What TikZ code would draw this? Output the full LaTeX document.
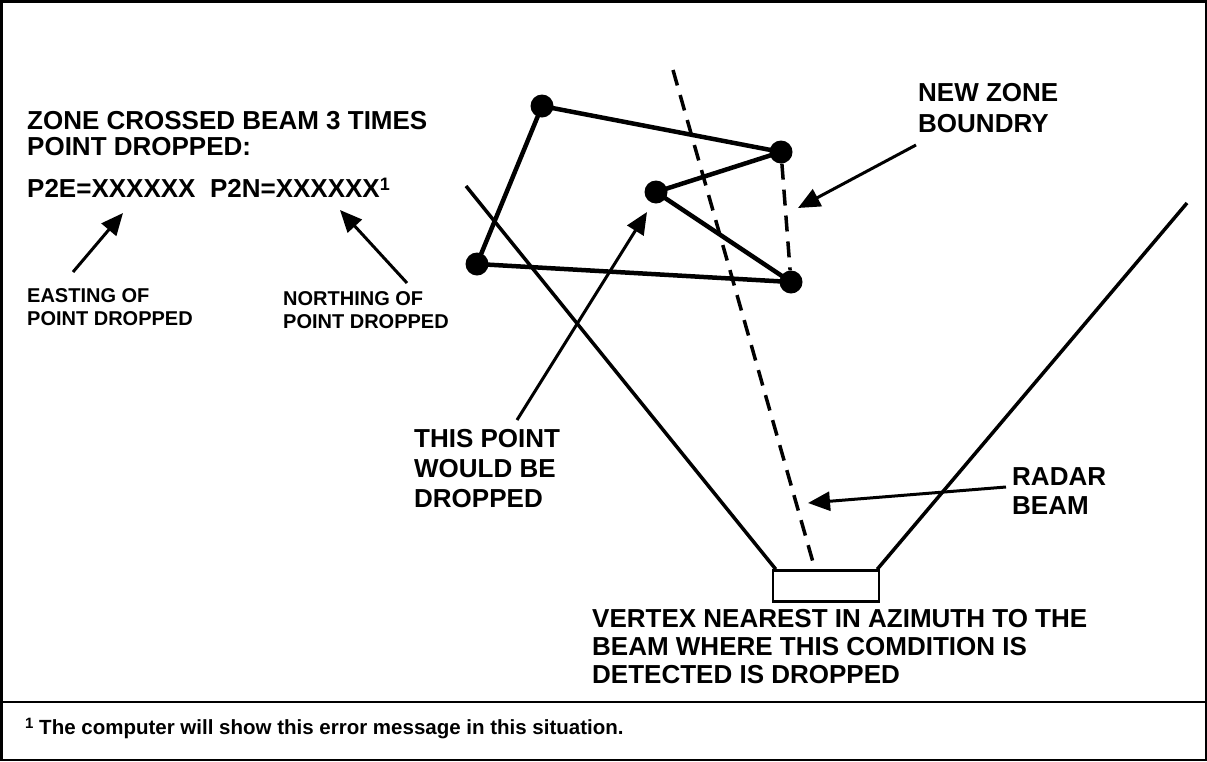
\documentclass[tikz,border=0pt]{standalone}
\usepackage{fontspec}
\setmainfont{Liberation Sans}
\usetikzlibrary{positioning}
\usetikzlibrary{calc}
\usetikzlibrary{arrows.meta}

\begin{document}
\begin{tikzpicture}[
  x=1pt, y=-1pt,
  lbl/.style={font=\fontsize{26}{28}\selectfont\bfseries, align=left, inner sep=0pt, anchor=base west},
  sml/.style={font=\fontsize{20}{23}\selectfont\bfseries, align=left, inner sep=0pt, anchor=base west},
  vtx/.style={circle, fill=black, minimum size=23pt, inner sep=0pt},
  zedge/.style={line width=4.5pt},
  beamline/.style={line width=3.5pt},
  dashline/.style={line width=3.5pt, dash pattern=on 16pt off 10pt},
  ar/.style={line width=3pt, -{Triangle[length=22pt,width=19pt]}}
]
\useasboundingbox (0,0) rectangle (1207,761);
\draw[line width=2.5pt] (1.25,1.25) rectangle (1205.75,759.75);
\draw[line width=2.5pt] (1,702) -- (1206,702);

% radar and beam
\node[draw, line width=2.5pt, minimum width=106pt, minimum height=31pt, inner sep=0pt] (radar) at (826,586) {};
\coordinate (beamL) at (466,186);
\coordinate (beamR) at (1187,203);
\coordinate (beamC) at (673,70);
\draw[beamline] (beamL) -- ([xshift=4pt]radar.north west);
\draw[beamline] (beamR) -- ([xshift=-3pt]radar.north east);
\draw[dashline] (beamC) -- ([xshift=-11pt]radar.north);

% zone polygon
\node[vtx] (vNW)  at (542,106) {};
\node[vtx] (vNE)  at (781,152) {};
\node[vtx] (vMid) at (656,192) {};
\node[vtx] (vSE)  at (791,282) {};
\node[vtx] (vW)   at (477,264) {};
\draw[zedge] (vW.center) -- (vNW.center) -- (vNE.center) -- (vMid.center) -- (vSE.center) -- (vW.center);
\draw[dashline] (vNE) -- (vSE);

% labels (anchored at the baseline of the last line)
\node[lbl, font=\fontsize{26}{26}\selectfont\bfseries] (zone) at (27,155) {ZONE CROSSED BEAM 3 TIMES\\POINT DROPPED:};
\node[lbl] (msg)  at (27,197) {P2E=XXXXXX\ \ P2N=XXXXXX\raisebox{7pt}{\fontsize{18}{18}\selectfont 1}};
\node[sml] (east) at (27,325) {EASTING OF\\POINT DROPPED};
\node[sml] (north) at (283,328) {NORTHING OF\\POINT DROPPED};
\node[lbl, font=\fontsize{26}{31}\selectfont\bfseries] (newz) at (918,132) {NEW ZONE\\BOUNDRY};
\node[lbl, font=\fontsize{26}{30}\selectfont\bfseries] (thisp) at (414,507) {THIS POINT\\WOULD BE\\DROPPED};
\node[lbl, font=\fontsize{26}{29}\selectfont\bfseries] (rbeam) at (1012,514) {RADAR\\BEAM};
\node[lbl] (vert) at (592,683) {VERTEX NEAREST IN AZIMUTH TO THE\\BEAM WHERE THIS COMDITION IS\\DETECTED IS DROPPED};
\node[font=\fontsize{20.5}{24}\selectfont\bfseries, inner sep=0pt, anchor=base west] (foot) at (25,734) {\raisebox{6pt}{\fontsize{15}{15}\selectfont 1} The computer will show this error message in this situation.};

% pointers
\coordinate (eastT) at (73,272);   \coordinate (eastH) at (123,213);
\coordinate (northT) at (407,283); \coordinate (northH) at (340,210);
\coordinate (thisT) at (517,420);  \coordinate (thisH) at (647,212);
\coordinate (newzT) at (916,145);  \coordinate (newzH) at (798,208);
\coordinate (rbeamT) at (1006,487); \coordinate (rbeamH) at (808,503);
\draw[ar] (eastT) -- (eastH);
\draw[ar] (northT) -- (northH);
\draw[ar] (thisT) -- (thisH);
\draw[ar] (newzT) -- (newzH);
\draw[ar] (rbeamT) -- (rbeamH);
\end{tikzpicture}
\end{document}
